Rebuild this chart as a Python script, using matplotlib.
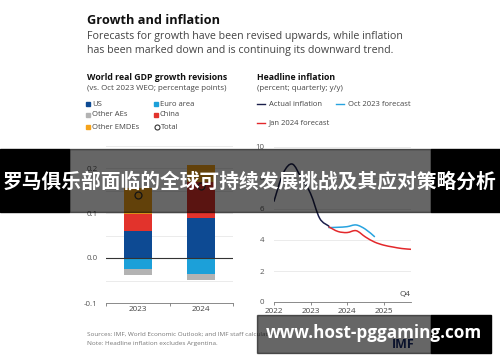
import matplotlib
matplotlib.use("Agg")
import matplotlib.pyplot as plt
import numpy as np
from matplotlib.path import Path
from matplotlib.patches import PathPatch, Rectangle
from matplotlib.lines import Line2D

W, H = 500, 362

# ---- left panel: GDP growth revisions ----
YEARS = ["2023", "2024"]
US = [0.061, 0.090]
CHINA = [0.037, 0.080]
OTHER_EMDES = [0.058, 0.037]
EURO_AREA = [-0.024, -0.036]
OTHER_AES = [-0.013, -0.013]
TOTAL = [0.140, 0.160]

SERIES_COLORS = {
    "US": "#0d4a93",
    "Euro area": "#1ca0d9",
    "Other AEs": "#b3b3b3",
    "China": "#e2332c",
    "Other EMDEs": "#f5a31b",
}

# ---- right panel: headline inflation (quarterly) ----
ACTUAL_Q = [2022.0, 2022.25, 2022.5, 2022.75, 2023.0, 2023.25, 2023.5]
ACTUAL = [6.5, 8.3, 8.9, 8.0, 7.0, 5.4, 4.9]
OCT_Q = [2023.5, 2023.75, 2024.0, 2024.25, 2024.5, 2024.75]
OCT_2023 = [4.8, 4.82, 4.86, 4.97, 4.7, 4.22]
JAN_Q = [2023.5, 2023.75, 2024.0, 2024.25, 2024.5, 2024.75, 2025.0, 2025.25, 2025.5, 2025.75]
JAN_2024 = [4.85, 4.55, 4.48, 4.6, 4.2, 3.87, 3.67, 3.55, 3.45, 3.4]
YEAR_TICKS = [2022, 2023, 2024, 2025]

NAVY = "#1b1f4b"
BLUE = "#27a3df"
RED = "#e3282b"

plt.rcParams["font.family"] = ["Open Sans", "DejaVu Sans"]


def fx(x):
    return x / W


def fy(y):
    return 1 - y / H


def smooth_path(xs, ys):
    # Catmull-Rom curve drawn as cubic bezier segments through the data points
    pts = np.column_stack([xs, ys]).astype(float)
    ext = np.vstack([pts[0], pts, pts[-1]])
    verts = [tuple(pts[0])]
    codes = [Path.MOVETO]
    for i in range(1, len(ext) - 2):
        p0, p1, p2, p3 = ext[i - 1], ext[i], ext[i + 1], ext[i + 2]
        c1 = p1 + (p2 - p0) / 6
        c2 = p2 - (p3 - p1) / 6
        verts += [tuple(c1), tuple(c2), tuple(p2)]
        codes += [Path.CURVE4] * 3
    return Path(verts, codes)


fig = plt.figure(figsize=(W / 100, H / 100), dpi=100)
fig.patch.set_facecolor("white")

# titles
fig.text(fx(87), fy(20), "Growth and inflation", fontsize=9.2, fontweight="bold",
         color="#111111", va="center", ha="left")
fig.text(fx(87), fy(37), "Forecasts for growth have been revised upwards, while inflation",
         fontsize=7.7, color="#444444", va="center", ha="left")
fig.text(fx(87), fy(50), "has been marked down and is continuing its downward trend.",
         fontsize=7.7, color="#444444", va="center", ha="left")

fig.text(fx(87), fy(77), "World real GDP growth revisions", fontsize=6.3, fontweight="bold",
         color="#111111", va="center", ha="left")
fig.text(fx(87), fy(88), "(vs. Oct 2023 WEO; percentage points)", fontsize=5.7,
         color="#444444", va="center", ha="left")
fig.text(fx(257), fy(77), "Headline inflation", fontsize=6.3, fontweight="bold",
         color="#111111", va="center", ha="left")
fig.text(fx(257), fy(88), "(percent; quarterly; y/y)", fontsize=5.7,
         color="#444444", va="center", ha="left")

# left legend
leg_items = [("US", 88, 104), ("Other AEs", 88, 115), ("Other EMDEs", 88, 127),
             ("Euro area", 156, 104), ("China", 156, 115)]
for name, x0, y0 in leg_items:
    fig.patches.append(Rectangle((fx(x0 - 2), fy(y0 + 2)), 4 / W, 4 / H,
                                 transform=fig.transFigure, color=SERIES_COLORS[name]))
    fig.text(fx(x0 + 4), fy(y0), name, fontsize=5.5, color="#444444", va="center", ha="left")
fig.lines.append(Line2D([fx(157)], [fy(127)], transform=fig.transFigure, marker="o",
                        markersize=3.6, markerfacecolor="none", markeredgecolor="#333333",
                        markeredgewidth=0.8))
fig.text(fx(161), fy(127), "Total", fontsize=5.5, color="#444444", va="center", ha="left")

# right legend
for label, col, x0, y0 in [("Actual inflation", NAVY, 257, 104),
                           ("Oct 2023 forecast", BLUE, 336, 104),
                           ("Jan 2024 forecast", RED, 257, 123)]:
    fig.lines.append(Line2D([fx(x0), fx(x0 + 8)], [fy(y0), fy(y0)], transform=fig.transFigure,
                            color=col, linewidth=1.0))
    fig.text(fx(x0 + 12), fy(y0), label, fontsize=5.5, color="#444444", va="center", ha="left")

# ---- left axes ----
ax1 = fig.add_axes([fx(106), fy(303), (233 - 106) / W, (303 - 145.5) / H])
x = np.arange(len(YEARS))
bw = 0.44
ax1.bar(x, US, bw, color=SERIES_COLORS["US"], zorder=3)
ax1.bar(x, CHINA, bw, bottom=US, color=SERIES_COLORS["China"], zorder=3)
ax1.bar(x, OTHER_EMDES, bw, bottom=np.add(US, CHINA), color=SERIES_COLORS["Other EMDEs"], zorder=3)
ax1.bar(x, EURO_AREA, bw, color=SERIES_COLORS["Euro area"], zorder=3)
ax1.bar(x, OTHER_AES, bw, bottom=EURO_AREA, color=SERIES_COLORS["Other AEs"], zorder=3)
ax1.plot(x, TOTAL, linestyle="none", marker="o", markersize=5, markerfacecolor="none",
         markeredgecolor="#333333", markeredgewidth=0.9, zorder=4)
ax1.axhline(0, color="#333333", linewidth=0.8, zorder=4)
ax1.set_xlim(-0.5, 1.5)
ax1.set_ylim(-0.1, 0.25)
ax1.set_yticks([-0.1, 0.0, 0.1, 0.2])
ax1.set_yticklabels(["-0.1", "0.0", "0.1", "0.2"])
ax1.set_yticks(np.arange(-0.05, 0.26, 0.05), minor=True)
ax1.grid(True, axis="y", which="both", color="#ebebeb", linewidth=0.7, zorder=0)
ax1.set_xticks([-0.5, 0.5, 1.5])
ax1.set_xticklabels([])
for xi, lab in zip(x, YEARS):
    ax1.text(xi, -0.106, lab, ha="center", va="top", fontsize=5.9, color="#444444",
             transform=ax1.transData)
ax1.tick_params(axis="y", which="both", length=0, labelsize=5.7, labelcolor="#555555", pad=6)
ax1.tick_params(axis="x", length=2.5, width=0.6, color="#777777", direction="out")
for s in ["top", "right", "left"]:
    ax1.spines[s].set_visible(False)
ax1.spines["bottom"].set_color("#777777")
ax1.spines["bottom"].set_linewidth(0.6)
ax1.patch.set_alpha(0)

# ---- right axes ----
ax2 = fig.add_axes([fx(274), fy(302), (411 - 274) / W, (302 - 147) / H])
ax2.set_xlim(2022, 2025.75)
ax2.set_ylim(0, 10)
ax2.set_yticks([0, 2, 4, 6, 8, 10])
ax2.set_yticklabels(["0", "2", "4", "6", "8", "10"])
ax2.grid(True, axis="y", color="#ebebeb", linewidth=0.7, zorder=0)
ax2.set_xticks(YEAR_TICKS)
ax2.set_xticklabels([str(t) for t in YEAR_TICKS])
ax2.tick_params(axis="y", length=0, labelsize=5.7, labelcolor="#555555", pad=7)
ax2.tick_params(axis="x", length=2.5, width=0.6, color="#777777", labelsize=5.9,
                labelcolor="#444444", pad=2)
for s in ["top", "right", "left"]:
    ax2.spines[s].set_visible(False)
ax2.spines["bottom"].set_color("#777777")
ax2.spines["bottom"].set_linewidth(0.6)
ax2.patch.set_alpha(0)
for xs, ys, col in [(OCT_Q, OCT_2023, BLUE), (JAN_Q, JAN_2024, RED), (ACTUAL_Q, ACTUAL, NAVY)]:
    ax2.add_patch(PathPatch(smooth_path(xs, ys), fill=False, edgecolor=col, linewidth=1.1,
                            zorder=3, capstyle="round"))
ax2.text(2025.75, 0.25, "Q4", ha="right", va="bottom", fontsize=5.9, color="#444444")

# footer
fig.text(fx(87), fy(334), "Sources: IMF, World Economic Outlook; and IMF staff calculations.",
         fontsize=4.6, color="#777777", va="center", ha="left")
fig.text(fx(87), fy(344), "Note: Headline inflation excludes Argentina.",
         fontsize=4.6, color="#777777", va="center", ha="left")
fig.text(fx(392), fy(345), "IMF", fontsize=9, fontweight="bold", color="#1b2f6e",
         va="center", ha="left")

# overlay banner
fig.patches.append(Rectangle((0, fy(212)), fx(69), (212 - 149) / H, transform=fig.transFigure,
                             color="black", zorder=10))
fig.patches.append(Rectangle((fx(431), fy(212)), fx(500 - 431), (212 - 149) / H,
                             transform=fig.transFigure, color="black", zorder=10))
fig.patches.append(Rectangle((fx(69), fy(212)), fx(431 - 69), (212 - 149) / H,
                             transform=fig.transFigure, color="black", alpha=0.6, zorder=10))
fig.text(0.5, fy(182), "罗马俱乐部面临的全球可持续发展挑战及其应对策略分析", fontsize=14.2,
         fontweight="bold", color="white", ha="center", va="center", zorder=11,
         family=["Noto Sans CJK SC", "DejaVu Sans"])

# watermark
fig.patches.append(Rectangle((fx(257), fy(353)), fx(431 - 257), (353 - 315) / H,
                             transform=fig.transFigure, color="black", alpha=0.6, zorder=10))
fig.patches.append(Rectangle((fx(431), fy(353)), fx(491 - 431), (353 - 315) / H,
                             transform=fig.transFigure, color="black", zorder=10))
fig.text(fx(373.5), fy(333), "www.host-pggaming.com", fontsize=12.3, fontweight="bold",
         color="white", ha="center", va="center", zorder=11,
         family=["Open Sans", "DejaVu Sans"])

fig.savefig("out.png", dpi=100)
